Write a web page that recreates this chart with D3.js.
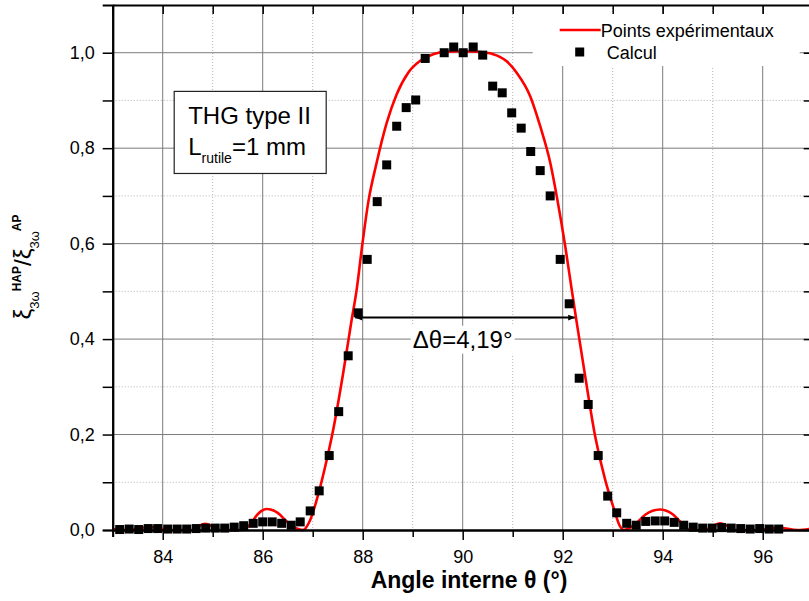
<!DOCTYPE html>
<html>
<head>
<meta charset="utf-8">
<script src="https://cdn.jsdelivr.net/npm/d3@7"></script>
<style>
  body { margin: 0; background: #fff; }
  text { font-family: "Liberation Sans", Arial, sans-serif; fill: #000; }
</style>
</head>
<body>
<script>
// Data
// ================================
// squares ("Calcul")
var calcAngle = [83.14, 83.33, 83.52, 83.71, 83.90, 84.10, 84.29, 84.48, 84.67, 84.86,
  85.05, 85.24, 85.43, 85.62, 85.81, 86.00, 86.19, 86.38, 86.57, 86.75,
  86.95, 87.13, 87.33, 87.52, 87.71, 87.91, 88.09, 88.29, 88.48, 88.68,
  88.87, 89.06, 89.25, 89.63, 89.82, 90.01, 90.21, 90.40, 90.60, 90.79,
  90.98, 91.17, 91.36, 91.55, 91.75, 91.95, 92.13, 92.33, 92.51, 92.71,
  92.90, 93.08, 93.28, 93.47, 93.66, 93.85, 94.04, 94.23, 94.42, 94.61,
  94.80, 94.99, 95.18, 95.37, 95.56, 95.75, 95.94, 96.13, 96.32];
var calcValue = [0.001, 0.002, 0.001, 0.003, 0.003, 0.002, 0.002, 0.002, 0.003, 0.004,
  0.004, 0.004, 0.006, 0.009, 0.014, 0.017, 0.017, 0.014, 0.010, 0.017,
  0.040, 0.082, 0.156, 0.248, 0.365, 0.455, 0.567, 0.688, 0.765, 0.846,
  0.885, 0.901, 0.988, 1.000, 1.012, 1.000, 1.012, 0.995, 0.930, 0.916,
  0.874, 0.842, 0.793, 0.753, 0.700, 0.567, 0.474, 0.318, 0.263, 0.156,
  0.071, 0.036, 0.014, 0.010, 0.018, 0.019, 0.019, 0.016, 0.010, 0.006,
  0.004, 0.004, 0.005, 0.004, 0.003, 0.002, 0.003, 0.002, 0.002];

// red line ("Points expérimentaux")
var curveAngle = [83.0, 83.35, 83.75, 84.15, 84.6, 84.72, 84.85, 84.98, 85.1, 85.6,
  85.75, 85.9, 86.08, 86.3, 86.5, 86.68, 86.8, 86.95, 87.08, 87.25,
  87.41, 87.61, 87.78, 87.88, 87.98, 88.11, 88.28, 88.48, 88.68, 88.91,
  89.15, 89.41, 89.68, 90.0, 90.3, 90.61, 90.88, 91.08, 91.35, 91.55,
  91.75, 91.88, 92.05, 92.18, 92.28, 92.45, 92.65, 92.85, 93.01, 93.15,
  93.22, 93.45, 93.65, 93.95, 94.2, 94.4, 94.55, 94.85, 95.0, 95.15,
  95.3, 95.45, 95.9, 96.3, 96.7, 97.0];
var curveValue = [0.002, 0.0, 0.006, 0.0, 0.0, 0.008, 0.013, 0.008, 0.0, 0.0,
  0.012, 0.033, 0.044, 0.036, 0.016, 0.003, 0.0, 0.021, 0.063, 0.133,
  0.210, 0.329, 0.441, 0.504, 0.588, 0.686, 0.770, 0.853, 0.913, 0.958,
  0.983, 0.997, 1.002, 1.003, 1.002, 0.997, 0.982, 0.958, 0.909, 0.846,
  0.770, 0.700, 0.595, 0.504, 0.435, 0.322, 0.196, 0.105, 0.049, 0.007,
  0.0, 0.012, 0.032, 0.043, 0.033, 0.012, 0.0, 0.0, 0.008, 0.014,
  0.008, 0.0, 0.0, 0.005, 0.0, 0.003];

// ticks
var xMajor = [84, 86, 88, 90, 92, 94, 96];
var xMinor = [83, 85, 87, 89, 91, 93, 95, 97];
var yMajor = [0, 0.2, 0.4, 0.6, 0.8, 1.0];
var yMinor = [0.1, 0.3, 0.5, 0.7, 0.9];

// annotation (data units)
var arrowFrom = 87.85, arrowTo = 92.25, arrowLevel = 0.445;
var deltaLabel = "Δθ=4,19°";
var boxX = [84.23, 87.27], boxY = [0.747, 0.919];

// Chart setup
// ================================
var svgWidth = 809;
var svgHeight = 601;
var margin = { top: 5, left: 112.7 };
var width = 700;
var height = 525;

var svg = d3.select("body").append("svg")
  .attr("width", svgWidth)
  .attr("height", svgHeight);

var chartGroup = svg.append("g")
  .attr("transform", `translate(${margin.left}, ${margin.top})`);

var xScale = d3.scaleLinear().domain([83, 97]).range([0, width]);
var yScale = d3.scaleLinear().domain([0, 1.1]).range([height, 0]);

var fmt = d => d3.format(".1f")(d).replace(".", ",");

// grid
var grid = chartGroup.append("g");
grid.selectAll(".gxm").data(xMinor).enter().append("line")
  .attr("x1", d => xScale(d)).attr("x2", d => xScale(d))
  .attr("y1", 0).attr("y2", height)
  .attr("stroke", "#b4b4b4").attr("stroke-dasharray", "1,2");
grid.selectAll(".gym").data(yMinor).enter().append("line")
  .attr("y1", d => yScale(d)).attr("y2", d => yScale(d))
  .attr("x1", 0).attr("x2", width)
  .attr("stroke", "#b4b4b4").attr("stroke-dasharray", "1,2");
grid.selectAll(".gxM").data(xMajor).enter().append("line")
  .attr("x1", d => xScale(d)).attr("x2", d => xScale(d))
  .attr("y1", 0).attr("y2", height)
  .attr("stroke", "#7a7a7a");
grid.selectAll(".gyM").data(yMajor.slice(1)).enter().append("line")
  .attr("y1", d => yScale(d)).attr("y2", d => yScale(d))
  .attr("x1", 0).attr("x2", width)
  .attr("stroke", "#7a7a7a");

// legend background
chartGroup.append("rect")
  .attr("x", 420).attr("y", 9).attr("width", 267).attr("height", 52)
  .attr("fill", "#fff");

// annotation box
chartGroup.append("rect")
  .attr("x", xScale(boxX[0])).attr("y", yScale(boxY[1]))
  .attr("width", xScale(boxX[1]) - xScale(boxX[0]))
  .attr("height", yScale(boxY[0]) - yScale(boxY[1]))
  .attr("fill", "#fff").attr("stroke", "#222").attr("stroke-width", 1.2);
var bx = xScale(boxX[0]) + 14, by = yScale(boxY[1]);
chartGroup.append("text").attr("x", bx).attr("y", by + 33)
  .style("font-size", "24px").text("THG type II");
var lt = chartGroup.append("text").attr("x", bx).attr("y", by + 64)
  .style("font-size", "24px");
lt.append("tspan").text("L");
lt.append("tspan").attr("dy", 8).style("font-size", "14px").text("rutile");
lt.append("tspan").attr("dy", -8).text("=1 mm");

// Δθ label with white background
var dl = chartGroup.append("g");
var dlx = xScale(90.0), dly = yScale(0.382);
dl.append("rect").attr("x", dlx - 52).attr("y", dly - 22).attr("width", 104).attr("height", 28)
  .attr("fill", "#fff");
dl.append("text").attr("x", dlx).attr("y", dly).attr("text-anchor", "middle")
  .style("font-size", "24px").text(deltaLabel);

// arrow
var defs = svg.append("defs");
defs.append("marker").attr("id", "ah").attr("viewBox", "0 0 10 10")
  .attr("refX", 10).attr("refY", 5).attr("markerWidth", 9).attr("markerHeight", 7)
  .attr("markerUnits", "userSpaceOnUse").attr("orient", "auto-start-reverse")
  .append("path").attr("d", "M0,1 L10,5 L0,9 Z").attr("fill", "#000");
chartGroup.append("line")
  .attr("x1", xScale(arrowFrom)).attr("x2", xScale(arrowTo))
  .attr("y1", yScale(arrowLevel)).attr("y2", yScale(arrowLevel))
  .attr("stroke", "#000").attr("stroke-width", 2)
  .attr("marker-start", "url(#ah)").attr("marker-end", "url(#ah)");

// red line
var line = d3.line()
  .x(d => xScale(d[0]))
  .y(d => yScale(d[1]))
  .curve(d3.curveMonotoneX);
chartGroup.append("path")
  .attr("d", line(d3.zip(curveAngle, curveValue)))
  .attr("fill", "none").attr("stroke", "#ff0000").attr("stroke-width", 2.6);

// squares
var sq = 9;
chartGroup.selectAll(".sq").data(d3.zip(calcAngle, calcValue)).enter().append("rect")
  .attr("x", d => xScale(d[0]) - sq / 2)
  .attr("y", d => yScale(d[1]) - sq / 2)
  .attr("width", sq).attr("height", sq)
  .attr("fill", "#000");

// axes
function styleAxis(g) {
  g.select(".domain").attr("stroke", "#000").attr("stroke-width", 2);
  g.selectAll(".tick line").attr("stroke", "#000").attr("stroke-width", 1.5);
  g.selectAll("text").style("font-size", "18px").attr("fill", "#000")
    .style("font-family", "'Liberation Sans', Arial, sans-serif");
}

chartGroup.append("g").attr("transform", `translate(0, ${height})`)
  .call(d3.axisBottom(xScale).tickValues(xMinor).tickSize(7).tickFormat(""))
  .call(styleAxis);
chartGroup.append("g").attr("transform", `translate(0, ${height})`)
  .call(d3.axisBottom(xScale).tickValues(xMajor).tickSize(10).tickSizeOuter(0).tickPadding(10).tickFormat(d3.format("d")))
  .call(styleAxis);

chartGroup.append("g")
  .call(d3.axisLeft(yScale).tickValues(yMinor).tickSize(10).tickFormat(""))
  .call(styleAxis);
chartGroup.append("g")
  .call(d3.axisLeft(yScale).tickValues(yMajor).tickSize(10).tickSizeOuter(0).tickPadding(8).tickFormat(fmt))
  .call(styleAxis);

chartGroup.append("g")
  .call(d3.axisTop(xScale).tickValues(xMajor.concat(xMinor)).tickSize(-9).tickSizeOuter(0).tickFormat(""))
  .call(styleAxis);
chartGroup.append("g").attr("transform", `translate(${width}, 0)`)
  .call(d3.axisRight(yScale).tickValues(yMajor.concat(yMinor)).tickSize(-9).tickSizeOuter(0).tickFormat(""))
  .call(styleAxis);

// legend
var lg = chartGroup.append("g").attr("transform", "translate(447, 25)");
lg.append("line").attr("x1", 0).attr("x2", 41).attr("y1", 0).attr("y2", 0)
  .attr("stroke", "#ff0000").attr("stroke-width", 2.6);
lg.append("text").attr("x", 41).attr("y", 6.5).style("font-size", "18px").text("Points expérimentaux");
lg.append("rect").attr("x", 15.5).attr("y", 17.5).attr("width", 9).attr("height", 9).attr("fill", "#000");
lg.append("text").attr("x", 47).attr("y", 28.5).style("font-size", "18px").text("Calcul");

// axis titles
svg.append("text")
  .attr("x", 469).attr("y", 588)
  .attr("text-anchor", "middle")
  .style("font-size", "23px").style("font-weight", "bold")
  .text("Angle interne θ (°)");

var yl = svg.append("text")
  .attr("transform", "translate(31, 267) rotate(-90)")
  .attr("text-anchor", "middle")
  .style("font-size", "24px");
yl.append("tspan").text("ξ");
yl.append("tspan").attr("dy", 8).style("font-size", "13px").text("3ω");
yl.append("tspan").attr("dy", -18).style("font-size", "12px").style("font-weight", "bold").text("HAP");
yl.append("tspan").attr("dy", 10).text("/ξ");
yl.append("tspan").attr("dy", 8).style("font-size", "13px").text("3ω");
yl.append("tspan").attr("dy", -18).style("font-size", "12px").style("font-weight", "bold").text("AP");
</script>
</body>
</html>
